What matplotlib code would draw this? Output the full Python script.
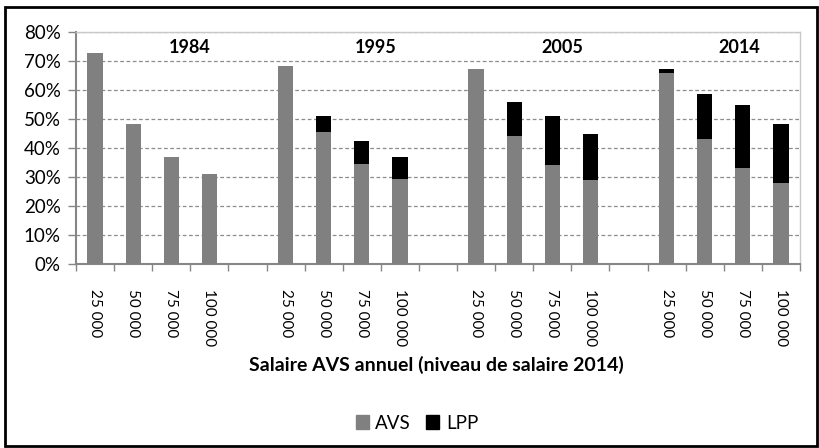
import matplotlib.pyplot as plt
from matplotlib.patches import Patch, Rectangle
from matplotlib.ticker import FuncFormatter, MultipleLocator
import numpy as np

# Values (% of salary)
years = ['1984', '1995', '2005', '2014']
salary_levels = ['25 000', '50 000', '75 000', '100 000']
avs_1984 = [72.7, 48.4, 37.1, 31.3]
lpp_1984 = [0.0, 0.0, 0.0, 0.0]
avs_1995 = [68.3, 45.5, 34.7, 29.6]
lpp_1995 = [0.0, 5.5, 8.0, 7.4]
avs_2005 = [67.3, 44.2, 34.3, 29.0]
lpp_2005 = [0.0, 11.7, 16.9, 16.0]
avs_2014 = [65.8, 43.1, 33.2, 28.1]
lpp_2014 = [1.5, 15.5, 21.9, 20.4]

avs_groups = [avs_1984, avs_1995, avs_2005, avs_2014]
lpp_groups = [lpp_1984, lpp_1995, lpp_2005, lpp_2014]

plt.rcParams['font.family'] = ['Lato', 'DejaVu Sans']

fig = plt.figure(figsize=(8.2, 4.48), dpi=100)
ax = fig.add_axes([76 / 820, 1 - 264.4 / 448, 724 / 820, (264.4 - 32.3) / 448])

grey = '#808080'
axis_col = '#868686'

# one empty slot between year groups
positions = []
labels = []
avs_all = []
lpp_all = []
for g in range(len(years)):
    for i in range(len(salary_levels)):
        positions.append(g * (len(salary_levels) + 1) + i)
        labels.append(salary_levels[i])
        avs_all.append(avs_groups[g][i])
        lpp_all.append(lpp_groups[g][i])
positions = np.array(positions)
n_slots = positions.max() + 1

ax.bar(positions, avs_all, width=0.4, color=grey, zorder=3)
ax.bar(positions, lpp_all, width=0.4, bottom=avs_all, color='black', zorder=3)

ax.set_xlim(-0.5, n_slots - 0.5)
ax.set_ylim(0, 80)
ax.yaxis.set_major_locator(MultipleLocator(10))
ax.yaxis.set_major_formatter(FuncFormatter(lambda v, p: '%d%%' % v))
ax.grid(axis='y', linestyle=(0, (3, 2)), color='#8c8c8c', linewidth=0.9, zorder=0)

ax.set_xticks(positions)
ax.set_xticklabels(labels, rotation=-90, ha='center', va='top', fontsize=11)
ax.tick_params(axis='x', length=0, pad=18)
ax.set_xticks(np.arange(-0.5, n_slots, 1.0), minor=True)
ax.tick_params(axis='x', which='minor', length=5, color=axis_col, width=1)
ax.tick_params(axis='y', length=6, color=axis_col, width=1, labelsize=13.5, pad=5)

for side in ['left', 'bottom']:
    ax.spines[side].set_color(axis_col)
    ax.spines[side].set_linewidth(1.5)
for side in ['top', 'right']:
    ax.spines[side].set_color('#c8c8c8')
    ax.spines[side].set_linewidth(1)

year_x = [2.49, 7.37, 12.27, 16.9]
for yx, yr in zip(year_x, years):
    ax.text(yx, 74.8, yr, ha='center', va='center', fontsize=13, fontweight='bold', zorder=4)

fig.text(436 / 820, 1 - 365 / 448, 'Salaire AVS annuel (niveau de salaire 2014)',
         ha='center', va='center', fontsize=14, fontweight='bold')

handles = [Patch(color=grey, label='AVS'), Patch(color='black', label='LPP')]
fig.legend(handles=handles, loc='center', bbox_to_anchor=(417 / 820, 1 - 423 / 448),
           ncol=2, frameon=False, fontsize=13.5, handlelength=0.7, handleheight=0.7,
           handletextpad=0.35, columnspacing=0.8)

fig.patches.append(Rectangle((5 / 820, 2 / 448), 812 / 820, 439 / 448, transform=fig.transFigure,
                             fill=False, edgecolor='black', linewidth=2))

fig.savefig('out.png', dpi=100)
